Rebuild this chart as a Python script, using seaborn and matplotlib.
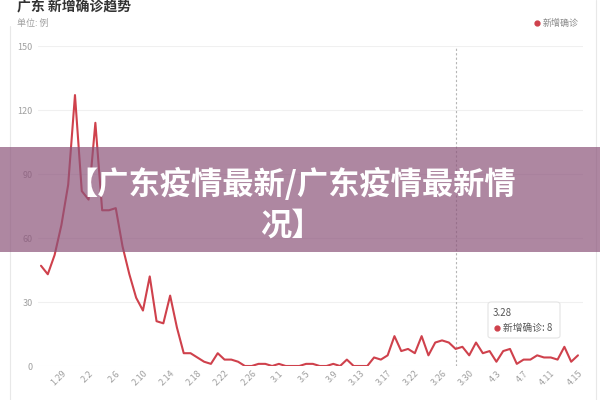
import numpy as np
import pandas as pd
import matplotlib
matplotlib.use("Agg")
import matplotlib.pyplot as plt
from matplotlib.patches import Rectangle, FancyBboxPatch
from matplotlib.lines import Line2D
import seaborn as sns

# ---------------- data ----------------
dates = [
    "1.26", "1.27", "1.28", "1.29", "1.30", "1.31",
    "2.1", "2.2", "2.3", "2.4", "2.5", "2.6", "2.7", "2.8", "2.9", "2.10",
    "2.11", "2.12", "2.13", "2.14", "2.15", "2.16", "2.17", "2.18", "2.19", "2.20",
    "2.21", "2.22", "2.23", "2.24", "2.25", "2.26", "2.27", "2.28", "2.29",
    "3.1", "3.2", "3.3", "3.4", "3.5", "3.6", "3.7", "3.8", "3.9", "3.10",
    "3.11", "3.12", "3.13", "3.14", "3.15", "3.16", "3.17", "3.18", "3.20", "3.21",
    "3.22", "3.23", "3.24", "3.25", "3.26", "3.27", "3.28", "3.29", "3.30", "3.31",
    "4.1", "4.2", "4.3", "4.4", "4.5", "4.6", "4.7", "4.8", "4.9", "4.10",
    "4.11", "4.12", "4.13", "4.14", "4.15",
]
new_cases = [
    47, 43, 52, 66, 85, 127,
    82, 78, 114, 73, 73, 74, 56, 43, 32, 26,
    42, 21, 20, 33, 18, 6, 6, 4, 2, 1,
    6, 3, 3, 2, 0, 0, 1, 1, 0,
    1, 0, 0, 0, 1, 1, 0, 0, 1, 0,
    3, 0, 0, 0, 4, 3, 5, 14, 7, 8,
    6, 14, 5, 11, 12, 11, 8, 9, 5, 11,
    6, 7, 2, 7, 8, 1, 3, 3, 5, 4,
    4, 3, 9, 2, 5,
]
xtick_labels = ["1.29", "2.2", "2.6", "2.10", "2.14", "2.18", "2.22", "2.26",
                "3.1", "3.5", "3.9", "3.13", "3.17", "3.22", "3.26", "3.30",
                "4.3", "4.7", "4.11", "4.15"]
ytick_values = [0, 30, 60, 90, 120, 150]
series_name = "新增确诊"
tooltip_date = "3.28"

# ---------------- style ----------------
sns.set_theme(style="white")
plt.rcParams["font.family"] = ["Noto Sans CJK SC", "DejaVu Sans"]

W, H = 600, 400
fig = plt.figure(figsize=(6, 4), dpi=100)
fig.patch.set_facecolor("white")

def fx(x):
    return x / W

def fy(y):
    return 1 - y / H

# axes: pixel x 38..583, y 46..366
ax = fig.add_axes([fx(38), fy(366), (583 - 38) / W, (366 - 46) / H])
ax.set_facecolor("none")

df = pd.DataFrame({"idx": np.arange(len(dates)), "date": dates, "value": new_cases})
line_color = "#cf414c"
sns.lineplot(data=df, x="idx", y="value", ax=ax, color=line_color, lw=1.5)

ax.set_xlim(-0.44, len(dates) - 1 + 0.74)
ax.set_ylim(0, 150)
ax.set_yticks(ytick_values)
ax.set_yticklabels([str(v) for v in ytick_values], color="#a0a0a0", fontsize=6.5)
xt = [dates.index(d) for d in xtick_labels]
ax.set_xticks(xt)
ax.set_xticklabels(xtick_labels, rotation=45, ha="right", rotation_mode="anchor",
                   color="#a0a0a0", fontsize=6.5)
ax.tick_params(axis="both", length=0)
ax.tick_params(axis="y", pad=4)
ax.tick_params(axis="x", pad=2)
ax.set_xlabel("")
ax.set_ylabel("")
for s in ax.spines.values():
    s.set_visible(False)
ax.grid(axis="y", color="#f0f0f0", lw=0.8)
ax.grid(axis="x", visible=False)
ax.set_axisbelow(True)

# dashed hover line
ax.axvline(dates.index(tooltip_date), color="#b5b5b5", lw=0.8, ls=(0, (2, 2)), zorder=1)

# card borders
fig.add_artist(Line2D([fx(10), fx(10)], [fy(26), fy(400)], color="#e8e8e8", lw=0.8))
fig.add_artist(Line2D([fx(595.5), fx(595.5)], [fy(0), fy(400)], color="#e8e8e8", lw=0.8))

# title & unit
fig.text(fx(17), fy(6), "广东 新增确诊趋势", fontsize=10, fontweight="bold",
         color="#333333", ha="left", va="center")
fig.text(fx(17), fy(23), "单位: 例", fontsize=6.5, color="#a0a0a0", ha="left", va="center")

# legend
fig.add_artist(Line2D([fx(537)], [fy(23)], marker="o", ms=3.5, color=line_color, lw=0))
fig.text(fx(543), fy(23), series_name, fontsize=6.5, color="#888888", ha="left", va="center")

# tooltip
tip = FancyBboxPatch((fx(488), fy(338)), (560 - 488) / W, (338 - 302) / H,
                     boxstyle="round,pad=0,rounding_size=0.006",
                     transform=fig.transFigure, facecolor="white",
                     edgecolor="#e4e4e4", lw=0.8, zorder=5)
fig.add_artist(tip)
fig.text(fx(493), fy(313), tooltip_date, fontsize=7, color="#555555",
         ha="left", va="center", zorder=6)
fig.add_artist(Line2D([fx(497)], [fy(328)], marker="o", ms=3.5, color=line_color, lw=0, zorder=6))
tip_val = new_cases[dates.index(tooltip_date)]
fig.text(fx(503), fy(328), f"{series_name}: {tip_val}", fontsize=7, color="#555555",
         ha="left", va="center", zorder=6)

# overlay banner
fig.add_artist(Rectangle((0, fy(252)), 1, (252 - 147) / H, transform=fig.transFigure,
                         facecolor=(0.55, 0.33, 0.48), alpha=0.7, lw=0, zorder=10))
fig.text(fx(291), fy(184), "【广东疫情最新/广东疫情最新情", fontsize=22.5, fontweight="black",
         color="white", ha="center", va="center", zorder=11)
fig.text(fx(291), fy(226), "况】", fontsize=22.5, fontweight="black",
         color="white", ha="center", va="center", zorder=11)

fig.savefig("out.png", dpi=100)
